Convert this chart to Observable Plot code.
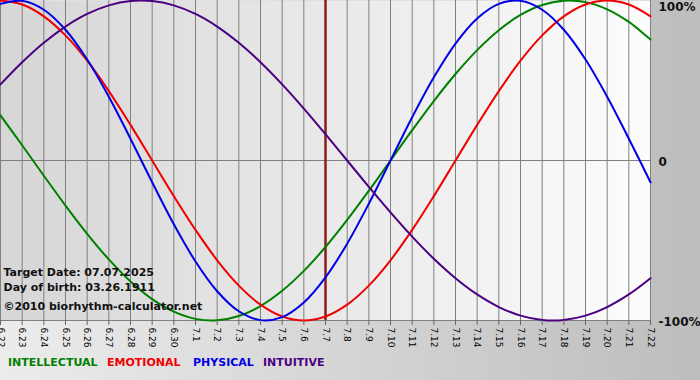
<!DOCTYPE html>
<html>
<head>
<meta charset="utf-8">
<script src="https://cdn.jsdelivr.net/npm/d3@7"></script>
<script src="https://cdn.jsdelivr.net/npm/@observablehq/plot@0.6"></script>
<style>
html, body { margin: 0; padding: 0; }
body {
  width: 700px; height: 380px; overflow: hidden; position: relative;
  background: linear-gradient(to right, #ececec, #bdbdbd);
  font-family: "DejaVu Sans", Verdana, sans-serif;
}
#chart { position: absolute; left: 0; top: 0; }
#legend { position: absolute; top: 356px; left: 0; width: 700px; height: 16px; font-size: 11px; font-weight: bold; white-space: nowrap; line-height: 13px; }
#legend span { position: absolute; top: 0; }
</style>
</head>
<body>
<div id="chart"></div>
<div id="legend"></div>
<script>
// ---- data ----
const dates = ["6.22","6.23","6.24","6.25","6.26","6.27","6.28","6.29","6.30",
  "7.1","7.2","7.3","7.4","7.5","7.6","7.7","7.8","7.9","7.10","7.11","7.12",
  "7.13","7.14","7.15","7.16","7.17","7.18","7.19","7.20","7.21","7.22"];

const intellectual = [0.2817, 0.0951, -0.0951, -0.2817, -0.4582, -0.6182, -0.7557, -0.8660, -0.9450,
  -0.9898, -0.9989, -0.9718, -0.9096, -0.8146, -0.6901, -0.5406, -0.3717, -0.1893, 0, 0.1893, 0.3717,
  0.5406, 0.6901, 0.8146, 0.9096, 0.9718, 0.9989, 0.9898, 0.9450, 0.8660, 0.7557];

const emotional = [1, 0.9749, 0.9010, 0.7818, 0.6235, 0.4339, 0.2225, 0, -0.2225,
  -0.4339, -0.6235, -0.7818, -0.9010, -0.9749, -1, -0.9749, -0.9010, -0.7818, -0.6235, -0.4339, -0.2225,
  0, 0.2225, 0.4339, 0.6235, 0.7818, 0.9010, 0.9749, 1, 0.9749, 0.9010];

const physical = [0.9791, 0.9977, 0.9423, 0.8170, 0.6310, 0.3984, 0.1362, -0.1362, -0.3984,
  -0.6310, -0.8170, -0.9423, -0.9977, -0.9791, -0.8879, -0.7308, -0.5196, -0.2698, 0, 0.2698, 0.5196,
  0.7308, 0.8879, 0.9791, 0.9977, 0.9423, 0.8170, 0.6310, 0.3984, 0.1362, -0.1362];

const intuitive = [0.4759, 0.6142, 0.7357, 0.8372, 0.9158, 0.9694, 0.9966, 0.9966, 0.9694,
  0.9158, 0.8372, 0.7357, 0.6142, 0.4759, 0.3247, 0.1646, 0, -0.1646, -0.3247, -0.4759, -0.6142,
  -0.7357, -0.8372, -0.9158, -0.9694, -0.9966, -0.9966, -0.9694, -0.9158, -0.8372, -0.7357];

const seriesNames = ["INTELLECTUAL", "EMOTIONAL", "PHYSICAL", "INTUITIVE"];
const seriesColors = ["#008000", "#f00000", "#0000e6", "#4b0082"];
const targetDate = "7.7";
const notes = ["Target Date: 07.07.2025", "Day of birth: 03.26.1911", "\u00a92010 biorhythm-calculator.net"];
const yTicks = [1, 0, -1];
const yLabels = ["100%", "0", "-100%"];

// ---- build table ----
const seriesValues = [intellectual, emotional, physical, intuitive];
const rows = [];
seriesNames.forEach((name, s) => {
  seriesValues[s].forEach((v, i) => rows.push({series: name, i, v}));
});
const idx = d3.range(dates.length);
const targetIdx = dates.indexOf(targetDate);
const yLabel = d => yLabels[yTicks.indexOf(d)];

const noteStyle = {frameAnchor: "bottom-left", dx: 3, text: d => d, textAnchor: "start", lineAnchor: "middle", fontSize: 11, fontWeight: "bold", fill: "#111"};

const chart = Plot.plot({
  width: 700,
  height: 348,
  marginLeft: 0,
  marginRight: 50,
  marginTop: 0,
  marginBottom: 28,
  style: {background: "transparent", fontFamily: "'DejaVu Sans', Verdana, sans-serif", fontSize: "9px", color: "#000", overflow: "visible"},
  x: {domain: [0, dates.length - 1], axis: null},
  y: {domain: [-1, 1], axis: null},
  marks: [
    Plot.frame({fill: "url(#plotBg)", stroke: null}),
    Plot.gridX(idx, {stroke: "#808080", strokeOpacity: 1}),
    Plot.ruleY([0, -1], {stroke: "#808080", strokeOpacity: 1}),
    Plot.ruleX([targetIdx], {stroke: "#8b1c1c", strokeWidth: 2.5}),
    ...seriesNames.map((name, s) =>
      Plot.line(rows.filter(r => r.series === name), {
        x: "i", y: "v", stroke: seriesColors[s], strokeWidth: 2, curve: "catmull-rom"
      })
    ),
    Plot.text([notes[0]], {...noteStyle, dy: -48}),
    Plot.text([notes[1]], {...noteStyle, dy: -33}),
    Plot.text([notes[2]], {...noteStyle, dy: -14}),
    Plot.axisX(idx, {anchor: "bottom", label: null, tickFormat: i => dates[i], tickRotate: 90, tickSize: 5, tickPadding: 2, stroke: "#666", fill: "#000"}),
    Plot.axisY([1], {anchor: "right", label: null, tickSize: 0, tickPadding: 8, tickFormat: yLabel, fontSize: 12, fontWeight: "bold", dy: 7, fill: "#111"}),
    Plot.axisY([0, -1], {anchor: "right", label: null, tickSize: 0, tickPadding: 8, tickFormat: yLabel, fontSize: 12, fontWeight: "bold", dy: 2, fill: "#111"})
  ]
});

// gradient for the plot area
const svg = d3.select(chart);
const grad = svg.insert("defs", ":first-child").append("linearGradient")
  .attr("id", "plotBg").attr("x1", "0").attr("x2", "1").attr("y1", "0").attr("y2", "0");
grad.append("stop").attr("offset", "0").attr("stop-color", "#d6d6d6");
grad.append("stop").attr("offset", "1").attr("stop-color", "#fcfcfc");

document.getElementById("chart").appendChild(chart);

// legend
const legendLeft = [8, 107, 193, 263];
const legend = d3.select("#legend");
seriesNames.forEach((name, s) => {
  legend.append("span").style("left", legendLeft[s] + "px").style("color", seriesColors[s]).text(name);
});
</script>
</body>
</html>
